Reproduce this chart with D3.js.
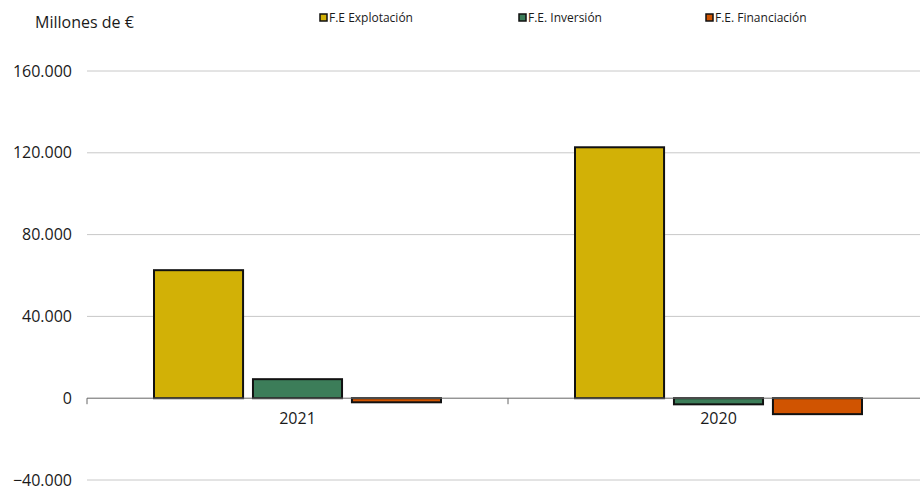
<!DOCTYPE html>
<html><head><meta charset="utf-8">
<script src="https://cdn.jsdelivr.net/npm/d3@7"></script>
<style>body{margin:0;background:#fff;} text{font-family:"Open Sans","Noto Sans",sans-serif;}</style>
</head><body><svg id="c" width="920" height="490"></svg>
<script>
const categories = ["2021", "2020"];
const seriesNames = ["F.E Explotación", "F.E. Inversión", "F.E. Financiación"];
const explotacion = [62600, 122700];
const inversion = [9300, -3000];
const financiacion = [-2000, -7800];
const colors = ["#d2b106", "#3c7d59", "#d05401"];
const yTicks = [-40000, 0, 40000, 80000, 120000, 160000];

const series = [explotacion, inversion, financiacion];
const svg = d3.select("#c");
const y = d3.scaleLinear().domain([-40000, 160000]).range([480, 71]);
const x0 = d3.scaleBand().domain(categories).range([87, 929]);
const x1 = d3.scaleBand().domain(seriesNames).range([67, 354]).paddingInner(0.1);
const fmt = v => d3.format(",")(v).replace(/,/g, ".");

// gridlines
svg.append("g").selectAll("line").data(yTicks.filter(d => d !== 0)).join("line")
  .attr("x1", 87).attr("x2", 920).attr("y1", d => y(d)).attr("y2", d => y(d))
  .attr("stroke", "#c8c8c8").attr("stroke-width", 1);

// y labels
svg.append("g").selectAll("text").data(yTicks).join("text")
  .attr("x", 72).attr("y", d => y(d)).attr("dy", "0.35em")
  .attr("text-anchor", "end").attr("font-size", 16).attr("fill", "#1a1a1a")
  .text(d => fmt(d));

// bars
const g = svg.append("g");
categories.forEach((c, i) => {
  series.forEach((s, j) => {
    const v = s[i];
    g.append("rect")
      .attr("x", x0(c) + x1(seriesNames[j]))
      .attr("width", x1.bandwidth())
      .attr("y", y(Math.max(0, v)))
      .attr("height", Math.abs(y(v) - y(0)))
      .attr("fill", colors[j]).attr("stroke", "#111").attr("stroke-width", 2);
  });
});

// zero axis
const xa = svg.append("g").attr("transform", `translate(0,${y(0)})`)
  .call(d3.axisBottom(x0).tickSize(0).tickPadding(14));
xa.select(".domain").remove();
xa.selectAll("text").attr("font-size", 16).attr("fill", "#1a1a1a")
  .attr("font-family", '"Open Sans","Noto Sans",sans-serif');
svg.append("line").attr("x1", 87).attr("x2", 920).attr("y1", y(0)).attr("y2", y(0))
  .attr("stroke", "#666").attr("stroke-width", 1);
svg.append("g").selectAll("line").data(categories).join("line")
  .attr("x1", d => x0(d)).attr("x2", d => x0(d))
  .attr("y1", y(0)).attr("y2", y(0) + 6).attr("stroke", "#666");

// title
svg.append("text").attr("x", 35).attr("y", 28).attr("font-size", 16).attr("fill", "#1a1a1a").text("Millones de €");

// legend
const legX = [320, 519, 706];
seriesNames.forEach((n, j) => {
  svg.append("rect").attr("x", legX[j]).attr("y", 14).attr("width", 7).attr("height", 7)
    .attr("fill", colors[j]).attr("stroke", "#111").attr("stroke-width", 1.5);
  svg.append("text").attr("x", legX[j] + 9).attr("y", 22).attr("font-size", 12)
    .attr("fill", "#1a1a1a").text(n);
});
</script></body></html>
